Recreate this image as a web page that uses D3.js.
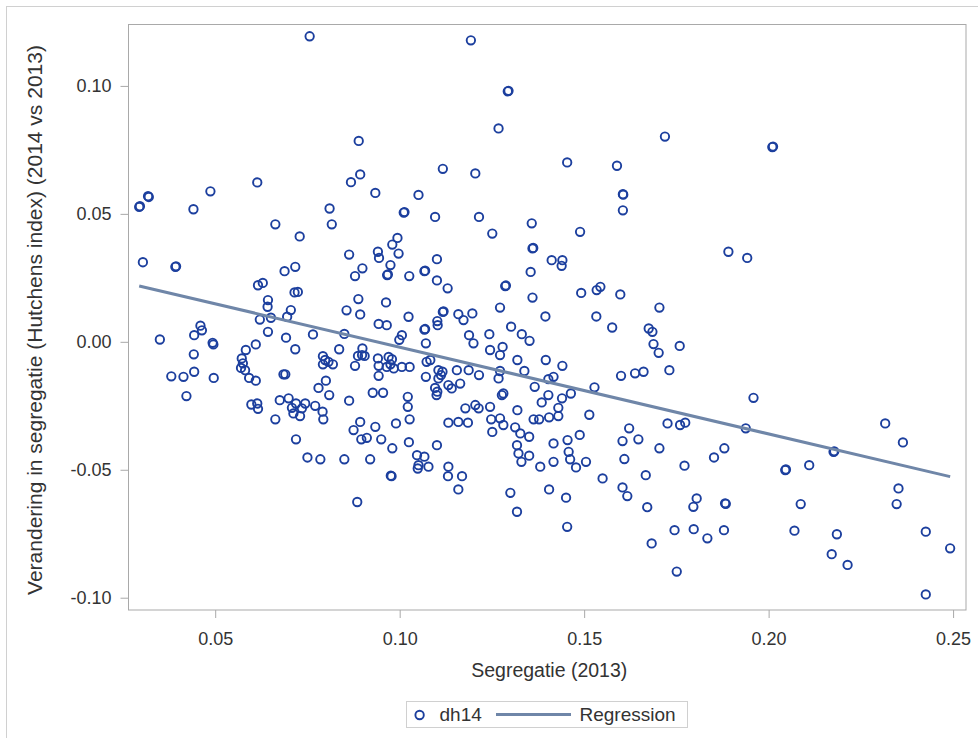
<!DOCTYPE html>
<html>
<head>
<meta charset="utf-8">
<script src="https://cdn.jsdelivr.net/npm/d3@7"></script>
<style>
  html, body { margin: 0; padding: 0; background: #fff; }
  svg { display: block; }
</style>
</head>
<body>
<div id="chart"></div>
<script>
// Segregation in 2013 (Hutchens index) per unit
const segregatie2013 = [
  0.0756, 0.0889, 0.0893, 0.0868, 0.0934, 0.0614, 0.0487, 0.0441, 0.0318, 0.0320,
  0.0294, 0.0296, 0.0810, 0.1011, 0.1013, 0.1193, 0.1293, 0.1295, 0.1268, 0.1719,
  0.1454, 0.1589, 0.1117, 0.1205, 0.1605, 0.1606, 0.1605, 0.1051, 0.1096, 0.1215,
  0.2010, 0.2012, 0.1891, 0.1942, 0.1959, 0.0663, 0.0816, 0.0729, 0.0304, 0.0392,
  0.0394, 0.0688, 0.0717, 0.0616, 0.0629, 0.0715, 0.0724, 0.0643, 0.0642, 0.0705,
  0.0695, 0.0621, 0.0651, 0.0863, 0.0899, 0.0879, 0.0941, 0.0944, 0.0975, 0.0966,
  0.0968, 0.0994, 0.0980, 0.0997, 0.1026, 0.0888, 0.0856, 0.0893, 0.0963, 0.0943,
  0.0965, 0.1024, 0.1006, 0.0999, 0.0765, 0.0850, 0.0460, 0.0464, 0.0443, 0.0350,
  0.0493, 0.0495, 0.0643, 0.0692, 0.0610, 0.0583, 0.0717, 0.0442, 0.0572, 0.0575,
  0.0570, 0.0581, 0.0592, 0.0610, 0.0836, 0.0792, 0.0798, 0.0807, 0.0792, 0.0819,
  0.0899, 0.0898, 0.0887, 0.0905, 0.0879, 0.0941, 0.0943, 0.0970, 0.0979, 0.0975,
  0.0965, 0.0984, 0.1006, 0.0943, 0.0381, 0.0414, 0.0443, 0.0496, 0.0685, 0.0690,
  0.0800, 0.0780, 0.0809, 0.0422, 0.0927, 0.0955, 0.0863, 0.1022, 0.1022, 0.0675,
  0.0699, 0.0598, 0.0614, 0.0616, 0.0719, 0.0744, 0.0735, 0.0771, 0.0791, 0.0708,
  0.0712, 0.0663, 0.0730, 0.0793, 0.0893, 0.0875, 0.0934, 0.0990, 0.1027, 0.0896,
  0.0911, 0.0950, 0.0980, 0.1025, 0.0719, 0.0750, 0.0785, 0.0850, 0.0920, 0.0976,
  0.0978, 0.0885, 0.1358, 0.1251, 0.1489, 0.1360, 0.1362, 0.1101, 0.1067, 0.1069,
  0.1101, 0.1130, 0.1412, 0.1441, 0.1439, 0.1355, 0.1286, 0.1288, 0.1360, 0.1492,
  0.1534, 0.1544, 0.1598, 0.1704, 0.1272, 0.1395, 0.1533, 0.1576, 0.1675, 0.1685,
  0.1688, 0.1702, 0.1759, 0.1731, 0.1600, 0.1638, 0.1661, 0.1528, 0.1117, 0.1119,
  0.1102, 0.1103, 0.1159, 0.1173, 0.1197, 0.1067, 0.1069, 0.1071, 0.1188, 0.1200,
  0.1243, 0.1302, 0.1331, 0.1352, 0.1245, 0.1279, 0.1272, 0.1319, 0.1396, 0.1441,
  0.1338, 0.1272, 0.1268, 0.1403, 0.1417, 0.1366, 0.1403, 0.1440, 0.1464, 0.1385,
  0.1430, 0.1281, 0.1277, 0.1319, 0.1514, 0.1027, 0.1073, 0.1083, 0.1071, 0.1105,
  0.1112, 0.1105, 0.1116, 0.1155, 0.1187, 0.1215, 0.1096, 0.1102, 0.1100, 0.1132,
  0.1141, 0.1164, 0.1178, 0.1205, 0.1214, 0.1245, 0.1101, 0.1047, 0.1067, 0.1051,
  0.1078, 0.1049, 0.1132, 0.1159, 0.1185, 0.1248, 0.1272, 0.1281, 0.1251, 0.1313,
  0.1327, 0.1351, 0.1318, 0.1322, 0.1351, 0.1330, 0.1363, 0.1378, 0.1405, 0.1430,
  0.1381, 0.1417, 0.1417, 0.1455, 0.1458, 0.1462, 0.1478, 0.1505, 0.1488, 0.1550,
  0.1132, 0.1131, 0.1169, 0.1159, 0.1300, 0.1318, 0.1405, 0.1451, 0.1454, 0.1604,
  0.1647, 0.1622, 0.1609, 0.1704, 0.1726, 0.1760, 0.1774, 0.1772, 0.1667, 0.1604,
  0.1617, 0.1671, 0.1745, 0.1683, 0.1751, 0.1938, 0.1880, 0.1852, 0.1805, 0.1796,
  0.1882, 0.1884, 0.1797, 0.1834, 0.1879, 0.2045, 0.2047, 0.2110, 0.2087, 0.2070,
  0.2176, 0.2178, 0.2185, 0.2171, 0.2214, 0.2316, 0.2364, 0.2352, 0.2347, 0.2426,
  0.2492, 0.2426
];

// Change in segregation, 2014 vs 2013 (dh14)
const dh14 = [
  0.1194, 0.0785, 0.0654, 0.0624, 0.0582, 0.0623, 0.0588, 0.0518, 0.0569, 0.0566,
  0.0527, 0.0530, 0.0521, 0.0505, 0.0507, 0.1178, 0.0979, 0.0981, 0.0834, 0.0802,
  0.0701, 0.0688, 0.0676, 0.0658, 0.0577, 0.0575, 0.0514, 0.0574, 0.0488, 0.0488,
  0.0761, 0.0763, 0.0352, 0.0328, -0.0219, 0.0459, 0.0459, 0.0412, 0.0311, 0.0293,
  0.0295, 0.0276, 0.0293, 0.0221, 0.0230, 0.0193, 0.0195, 0.0163, 0.0137, 0.0124,
  0.0098, 0.0087, 0.0094, 0.0341, 0.0287, 0.0257, 0.0352, 0.0328, 0.0300, 0.0261,
  0.0263, 0.0406, 0.0380, 0.0345, 0.0257, 0.0167, 0.0123, 0.0107, 0.0154, 0.0070,
  0.0065, 0.0098, 0.0026, 0.0008, 0.0029, 0.0031, 0.0063, 0.0045, 0.0026, 0.0009,
  -0.0004, -0.0010, 0.0039, 0.0016, -0.0010, -0.0032, -0.0029, -0.0049, -0.0065, -0.0084,
  -0.0102, -0.0111, -0.0141, -0.0152, -0.0029, -0.0056, -0.0071, -0.0078, -0.0088, -0.0088,
  -0.0026, -0.0052, -0.0055, -0.0055, -0.0094, -0.0065, -0.0094, -0.0059, -0.0068, -0.0088,
  -0.0098, -0.0104, -0.0098, -0.0133, -0.0135, -0.0137, -0.0117, -0.0141, -0.0127, -0.0127,
  -0.0152, -0.0180, -0.0208, -0.0212, -0.0199, -0.0199, -0.0230, -0.0215, -0.0254, -0.0228,
  -0.0221, -0.0245, -0.0241, -0.0262, -0.0241, -0.0241, -0.0260, -0.0250, -0.0273, -0.0258,
  -0.0280, -0.0303, -0.0290, -0.0303, -0.0313, -0.0345, -0.0332, -0.0319, -0.0303, -0.0381,
  -0.0375, -0.0381, -0.0416, -0.0392, -0.0381, -0.0452, -0.0459, -0.0459, -0.0459, -0.0523,
  -0.0525, -0.0626, 0.0463, 0.0423, 0.0430, 0.0365, 0.0367, 0.0323, 0.0276, 0.0278,
  0.0240, 0.0209, 0.0319, 0.0319, 0.0297, 0.0273, 0.0218, 0.0220, 0.0173, 0.0191,
  0.0202, 0.0215, 0.0185, 0.0134, 0.0134, 0.0099, 0.0099, 0.0056, 0.0052, 0.0039,
  -0.0009, -0.0043, -0.0016, -0.0111, -0.0133, -0.0123, -0.0117, -0.0178, 0.0117, 0.0119,
  0.0081, 0.0065, 0.0108, 0.0085, 0.0111, 0.0048, 0.0050, -0.0006, 0.0026, -0.0006,
  0.0030, 0.0059, 0.0030, 0.0004, -0.0032, -0.0020, -0.0052, -0.0071, -0.0071, -0.0094,
  -0.0114, -0.0114, -0.0143, -0.0146, -0.0137, -0.0176, -0.0208, -0.0221, -0.0202, -0.0237,
  -0.0258, -0.0202, -0.0208, -0.0267, -0.0285, -0.0098, -0.0078, -0.0071, -0.0137, -0.0111,
  -0.0130, -0.0143, -0.0117, -0.0111, -0.0111, -0.0130, -0.0180, -0.0195, -0.0208, -0.0169,
  -0.0182, -0.0163, -0.0260, -0.0247, -0.0260, -0.0254, -0.0404, -0.0443, -0.0449, -0.0482,
  -0.0488, -0.0495, -0.0316, -0.0313, -0.0316, -0.0303, -0.0299, -0.0325, -0.0352, -0.0334,
  -0.0358, -0.0371, -0.0404, -0.0436, -0.0445, -0.0469, -0.0303, -0.0303, -0.0295, -0.0290,
  -0.0488, -0.0397, -0.0469, -0.0384, -0.0430, -0.0459, -0.0491, -0.0469, -0.0364, -0.0534,
  -0.0488, -0.0525, -0.0525, -0.0577, -0.0590, -0.0664, -0.0577, -0.0609, -0.0723, -0.0388,
  -0.0381, -0.0338, -0.0458, -0.0416, -0.0319, -0.0325, -0.0316, -0.0484, -0.0521, -0.0569,
  -0.0603, -0.0646, -0.0736, -0.0788, -0.0898, -0.0338, -0.0416, -0.0452, -0.0612, -0.0645,
  -0.0631, -0.0633, -0.0732, -0.0768, -0.0736, -0.0501, -0.0499, -0.0482, -0.0634, -0.0738,
  -0.0430, -0.0428, -0.0752, -0.0830, -0.0872, -0.0319, -0.0393, -0.0573, -0.0634, -0.0742,
  -0.0807, -0.0987
];

// Fitted regression line: dh14 = intercept + slope * segregatie2013
const regressionCoef = [0.0318, -0.339];

// Axis ticks
const xTicks = [0.05, 0.10, 0.15, 0.20, 0.25];
const yTicks = [-0.10, -0.05, 0.00, 0.05, 0.10];

const legendLabels = ["dh14", "Regression"];
const xTitle = "Segregatie (2013)";
const yTitle = "Verandering in segregatie  (Hutchens index) (2014 vs 2013)";

const W = 978, H = 738;
const plot = { left: 128.5, right: 966, top: 24.5, bottom: 610 };
const markerColor = "#1c3f9e";
const fitColor = "#6f86a8";
const frameColor = "#a9a9a9";
const textColor = "#333";
const font = "'Liberation Sans', Arial, sans-serif";
// two decimals with a plain hyphen for negatives
const fmt = d => d.toFixed(2);

const svg = d3.select("#chart").append("svg")
  .attr("width", W).attr("height", H);

// outer graph border
svg.append("rect")
  .attr("x", 6.5).attr("y", 6.5)
  .attr("width", W - 4).attr("height", H + 10)
  .attr("fill", "none").attr("stroke", "#d0d0d0");

const x = d3.scaleLinear().domain([0.0265, 0.2535]).range([plot.left, plot.right]);
const y = d3.scaleLinear().domain([-0.1048, 0.1240]).range([plot.bottom, plot.top]);

// axes
const xAxis = d3.axisBottom(x).tickValues(xTicks).tickFormat(fmt)
  .tickSizeOuter(0).tickSizeInner(8).tickPadding(14);
const yAxis = d3.axisLeft(y).tickValues(yTicks).tickFormat(fmt)
  .tickSizeOuter(0).tickSizeInner(8).tickPadding(9);

const gx = svg.append("g").attr("transform", `translate(0,${plot.bottom})`).call(xAxis);
const gy = svg.append("g").attr("transform", `translate(${plot.left},0)`).call(yAxis);
[gx, gy].forEach(g => {
  g.select(".domain").remove();
  g.selectAll(".tick line").attr("stroke", frameColor);
  g.selectAll(".tick text").attr("fill", textColor)
    .style("font-family", font).style("font-size", "18px");
});

// plot frame
svg.append("rect")
  .attr("x", plot.left).attr("y", plot.top)
  .attr("width", plot.right - plot.left).attr("height", plot.bottom - plot.top)
  .attr("fill", "none").attr("stroke", frameColor);

const pts = segregatie2013.map((v, i) => ({ x: v, y: dh14[i] }));

// scatter markers
svg.append("g").selectAll("circle").data(pts).join("circle")
  .attr("cx", d => x(d.x)).attr("cy", d => y(d.y))
  .attr("r", 4.2)
  .attr("fill", "none").attr("stroke", markerColor).attr("stroke-width", 1.9);

// regression line over the data range
const xr = d3.extent(segregatie2013);
const fit = xr.map(v => ({ x: v, y: regressionCoef[0] + regressionCoef[1] * v }));
svg.append("path").datum(fit)
  .attr("d", d3.line().x(d => x(d.x)).y(d => y(d.y)))
  .attr("fill", "none").attr("stroke", fitColor).attr("stroke-width", 3);

// axis titles
svg.append("text")
  .attr("x", (plot.left + plot.right) / 2 + 2).attr("y", 677)
  .attr("text-anchor", "middle").attr("fill", textColor)
  .style("font-family", font).style("font-size", "19.5px")
  .text(xTitle);
svg.append("text")
  .attr("transform", `translate(42,320) rotate(-90)`)
  .attr("text-anchor", "middle").attr("fill", textColor)
  .style("font-family", font).style("font-size", "21px")
  .text(yTitle);

// legend
const lg = svg.append("g");
lg.append("rect").attr("x", 406.5).attr("y", 701.5).attr("width", 281).attr("height", 26)
  .attr("fill", "none").attr("stroke", "#d0d0d0");
lg.append("circle").attr("cx", 419.6).attr("cy", 715).attr("r", 4.2)
  .attr("fill", "none").attr("stroke", markerColor).attr("stroke-width", 1.9);
lg.append("text").attr("x", 439.5).attr("y", 721).attr("fill", textColor)
  .style("font-family", font).style("font-size", "19px").text(legendLabels[0]);
lg.append("line").attr("x1", 496).attr("x2", 571).attr("y1", 714.5).attr("y2", 714.5)
  .attr("stroke", fitColor).attr("stroke-width", 3);
lg.append("text").attr("x", 579.5).attr("y", 721).attr("fill", textColor)
  .style("font-family", font).style("font-size", "19px").text(legendLabels[1]);
</script>
</body>
</html>
